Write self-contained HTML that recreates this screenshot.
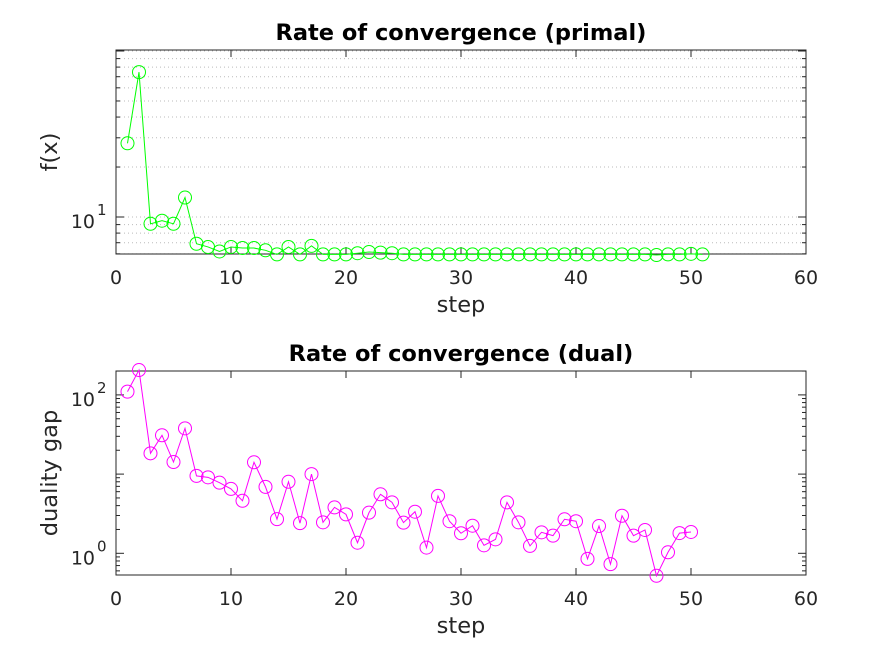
<!DOCTYPE html>
<html><head><meta charset="utf-8"><style>
body{margin:0;background:#fff}
svg{font-family:"DejaVu Sans","Liberation Sans",sans-serif}
</style></head><body>
<svg id="c" width="891" height="656" xmlns="http://www.w3.org/2000/svg"></svg>
<script>
const primalSteps = Array.from({length:51},(_,i)=>i+1);
const primalValues = [27.8,74.6,9.1,9.5,9.1,13.1,6.9,6.6,6.2,6.6,6.5,6.5,6.3,5.95,6.6,5.95,6.7,5.95,5.95,5.95,6.05,6.15,6.1,6.05,5.95,5.95,5.95,5.95,5.95,5.95,5.95,5.95,5.95,5.95,5.95,5.95,5.95,5.95,5.95,5.95,5.95,5.95,5.95,5.95,5.95,5.95,5.9,5.95,5.95,6.0,5.95];
const dualSteps = Array.from({length:50},(_,i)=>i+1);
const dualValues = [110,206,18.3,30.9,14.2,37.8,9.5,9.1,7.8,6.5,4.6,14.1,6.9,2.7,8.0,2.4,10,2.46,3.8,3.1,1.36,3.26,5.56,4.4,2.44,3.35,1.18,5.3,2.54,1.79,2.23,1.26,1.5,4.4,2.46,1.24,1.84,1.67,2.69,2.54,0.85,2.21,0.73,2.98,1.67,1.97,0.52,1.03,1.8,1.86];
const xTicks = [0,10,20,30,40,50,60];
const primalYTicks = [10];
const dualYTicks = [1,100];

const NS="http://www.w3.org/2000/svg";
const svg=document.getElementById('c');
function el(t,a,p){const e=document.createElementNS(NS,t);for(const k in a)e.setAttribute(k,a[k]);(p||svg).appendChild(e);return e;}
const X0=116,X1=806;
const xs=v=>X0+(X1-X0)*v/60;

function panel(o){
  const g=el('g',{});
  
  
  const ys=v=>o.yref-o.dec*Math.log10(v/o.vref);
  const yTop=o.top,yBot=o.bot;
  const lo=Math.floor(Math.log10(o.vmin)),hi=Math.ceil(Math.log10(o.vmax));
  for(let d=lo;d<hi;d++)for(let m=1;m<10;m++){
    const v=m*Math.pow(10,d);const y=ys(v);
    if(y<yTop-0.5||y>yBot+0.5)continue;
    if(o.grid){const gl=el('line',{x1:X0,x2:X1,y1:y,y2:y,stroke:'#bbb','stroke-width':1,'stroke-dasharray':'1,3'},g);
      }
    const L=m===1?8:4;
    el('line',{x1:X0,x2:X0+L,y1:y,y2:y,stroke:'#262626'},g);
    el('line',{x1:X1,x2:X1-L,y1:y,y2:y,stroke:'#262626'},g);
  }
  const box=el('rect',{x:X0,y:yTop,width:X1-X0,height:yBot-yTop,fill:'none',stroke:'#262626','stroke-width':1},g);
  
  xTicks.forEach(t=>{const x=xs(t);
    el('line',{x1:x,x2:x,y1:yBot,y2:yBot-7,stroke:'#262626'},g);
    el('line',{x1:x,x2:x,y1:yTop,y2:yTop+7,stroke:'#262626'},g);
    const tx=el('text',{x:x,y:yBot+30,'text-anchor':'middle','font-size':19,fill:'#262626'},g);
    
    tx.textContent=t;});
  o.yt.forEach(t=>{const y=ys(t);
    const tx=el('text',{x:95,y:y+11,'text-anchor':'end','font-size':19,fill:'#262626'},g);
    
    tx.textContent='10';
    const s=el('text',{x:97,y:y-2,'text-anchor':'start','font-size':15,fill:'#262626'},g);
    
    s.textContent=Math.round(Math.log10(t));});
  const xl=el('text',{x:(X0+X1)/2,y:yBot+58,'text-anchor':'middle','font-size':22.5,fill:'#262626'},g);
  xl.textContent='step';
  const cy=(yTop+yBot)/2;
  const yl=el('text',{x:57,y:cy,'text-anchor':'middle','font-size':22.5,fill:'#262626',transform:`rotate(-90 57 ${cy})`},g);
  yl.textContent=o.ylab;
  const tt=el('text',{x:(X0+X1)/2,y:yTop-10,'text-anchor':'middle','font-size':22.5,'font-weight':'bold',fill:'#000'},g);
  tt.textContent=o.title;
  const pts=o.xsA.map((s,i)=>xs(s)+','+ys(o.vals[i])).join(' ');
  const pl=el('polyline',{points:pts,fill:'none',stroke:o.color,'stroke-width':1},g);
  
  o.xsA.forEach((s,i)=>{const c=el('circle',{cx:xs(s),cy:ys(o.vals[i]),r:6.5,fill:'none',stroke:o.color,'stroke-width':1},g);
    });
}
panel({name:'primal-panel',top:50,bot:254,yref:217,vref:10,dec:166,vmin:5.9,vmax:101,grid:true,yt:primalYTicks,ylab:'f(x)',title:'Rate of convergence (primal)',xsA:primalSteps,vals:primalValues,color:'#00ff00'});
panel({name:'dual-panel',top:371,bot:575,yref:553.3,vref:1,dec:79.2,vmin:0.5,vmax:210,grid:false,yt:dualYTicks,ylab:'duality gap',title:'Rate of convergence (dual)',xsA:dualSteps,vals:dualValues,color:'#ff00ff'});
</script>
</body></html>
